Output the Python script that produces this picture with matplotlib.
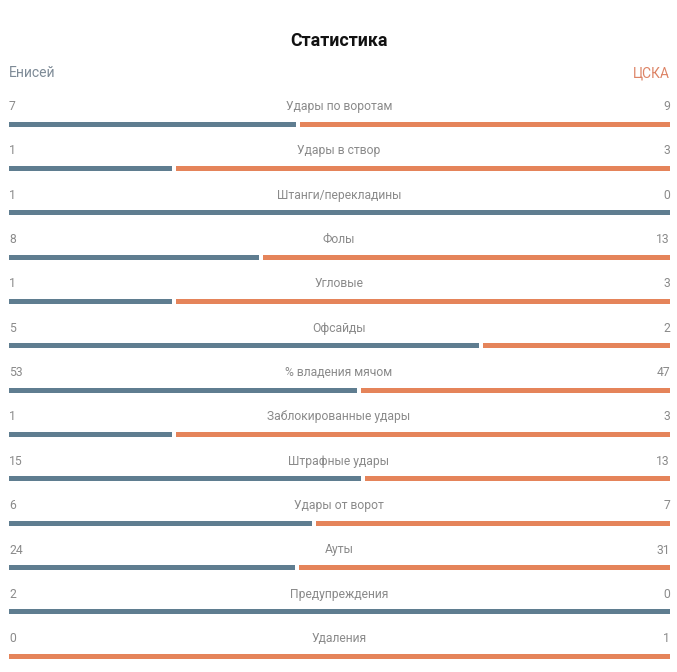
import matplotlib
matplotlib.use("Agg")
import matplotlib.pyplot as plt

title = "Статистика"
team_home = "Енисей"
team_away = "ЦСКА"
categories = ["Удары по воротам", "Удары в створ", "Штанги/перекладины", "Фолы",
              "Угловые", "Офсайды", "% владения мячом", "Заблокированные удары",
              "Штрафные удары", "Удары от ворот", "Ауты", "Предупреждения", "Удаления"]
home = [7, 1, 1, 8, 1, 5, 53, 1, 15, 6, 24, 2, 0]
away = [9, 3, 0, 13, 3, 2, 47, 3, 13, 7, 31, 0, 1]

BLUE = "#5f7d90"
ORANGE = "#e5845a"
GRAY = "#8a8a8a"

plt.rcParams['font.family'] = ['Roboto', 'DejaVu Sans']

fig = plt.figure(figsize=(6.77, 6.72), dpi=100)
ax = fig.add_axes([0, 0, 1, 1])
ax.set_xlim(0, 677)
ax.set_ylim(672, 0)
ax.axis('off')

x0, x1 = 9, 670
W = x1 - x0
gap = 4
bar_y0 = 124
step = 44.35
bh = 5

ax.text(339, 41, title, ha='center', va='center', fontsize=12.8, fontweight='bold', color='#111111')
ax.text(x0, 73, team_home, ha='left', va='center', fontsize=10, color='#7d8a96')
ax.text(x1, 73, team_away, ha='right', va='center', fontsize=10, color='#dd8466')

for i, (cat, h, a) in enumerate(zip(categories, home, away)):
    yb = bar_y0 + i * step
    yt = yb - 17.5
    ax.text(x0, yt, str(h), ha='left', va='center', fontsize=8.7, color=GRAY)
    ax.text(x1, yt, str(a), ha='right', va='center', fontsize=8.7, color=GRAY)
    ax.text(339, yt, cat, ha='center', va='center', fontsize=8.7, color=GRAY)
    tot = h + a
    if a == 0:
        ax.barh(yb, W, left=x0, height=bh, color=BLUE)
    elif h == 0:
        ax.barh(yb, W, left=x0, height=bh, color=ORANGE)
    else:
        bw = W * h / tot
        ax.barh(yb, bw - gap / 2, left=x0, height=bh, color=BLUE)
        ax.barh(yb, W - bw - gap / 2, left=x0 + bw + gap / 2, height=bh, color=ORANGE)

fig.savefig("out.png", dpi=100)
